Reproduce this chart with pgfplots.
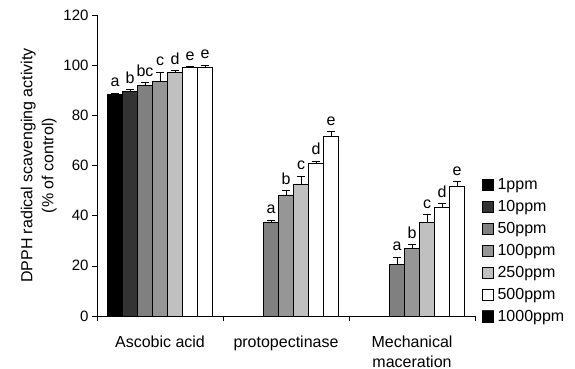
\documentclass[border=0pt]{standalone}
\usepackage{fontspec}
\setmainfont{Liberation Sans}
\usepackage{pgfplots}
\pgfplotsset{compat=1.18}

\definecolor{c1}{HTML}{000000}
\definecolor{c10}{HTML}{333333}
\definecolor{c50}{HTML}{808080}
\definecolor{c100}{HTML}{969696}
\definecolor{c250}{HTML}{C0C0C0}
\definecolor{c500}{HTML}{FFFFFF}

\pgfplotsset{
  swatch/.style={legend image code/.code={
      \draw[##1, draw=black, line width=0.5bp] (0bp,-5.5bp) rectangle (11bp,5.5bp);}},
}

\begin{document}
\begin{tikzpicture}
\begin{axis}[
  name=main,
  at={(0,0)}, anchor=south west,
  scale only axis,
  width=378bp, height=301bp,
  font=\fontsize{16bp}{21bp}\selectfont,
  tick label style={font=\fontsize{15bp}{18bp}\selectfont},
  /pgf/number format/assume math mode=true,
  ybar=0pt, bar width=15bp,
  xmin=-0.5, xmax=2.5,
  ymin=0, ymax=120,
  ytick={0,20,...,120},
  xtick={-0.5,0.5,1.5,2.5},
  xticklabels={},
  extra x ticks={0,1,2},
  extra x tick labels={Ascobic acid,protopectinase,{Mechanical\\maceration}},
  extra x tick style={major tick length=0pt,
    tick label style={align=center, yshift=-16bp,
      font=\fontsize{16bp}{20bp}\selectfont}},
  axis x line*=bottom, axis y line*=left,
  tick align=outside,
  major tick length=5bp,
  every tick/.style={black, line width=0.6bp},
  axis line style={line width=0.6bp},
  ylabel={DPPH radical scavenging activity\\(\% of control)},
  ylabel style={align=center, font=\fontsize{16bp}{21bp}\selectfont},
  error bars/y dir=plus, error bars/y explicit,
  error bars/error mark options={rotate=90, mark size=4bp, line width=0.8bp},
  error bars/error bar style={line width=0.8bp},
  every axis plot/.append style={draw=black, line width=0.6bp},
  point meta=explicit symbolic,
  nodes near coords,
  visualization depends on={\thisrow{err}\as\errv},
  every node near coord/.append style={anchor=south, inner sep=0pt,
    shift={(axis direction cs:0,\errv)}, yshift=6bp,
    font=\fontsize{16bp}{18bp}\selectfont, black},
  legend cell align=left,
  legend style={at={(1.01,0.468)}, anchor=north west, draw=none, fill=none,
    row sep=7.3bp, font=\fontsize{16bp}{18bp}\selectfont,
    nodes={inner sep=1bp},
    /tikz/every odd column/.append style={column sep=3bp}},
]
% 1 ppm
\addplot[fill=c1, swatch] table[x=x, y=y, y error=err, meta=lab] {
x y err lab
0 88.2 0.6 a
};
% 10 ppm
\addplot[fill=c10, swatch] table[x=x, y=y, y error=err, meta=lab] {
x y err lab
0 89.5 0.7 b
};
% 50 ppm
\addplot[fill=c50, swatch] table[x=x, y=y, y error=err, meta=lab] {
x y err lab
0 91.9 1.2 bc
1 37.5 0.8 a
2 20.5 3.0 a
};
% 100 ppm
\addplot[fill=c100, swatch] table[x=x, y=y, y error=err, meta=lab] {
x y err lab
0 93.6 3.6 c
1 48.3 1.6 b
2 26.8 1.7 b
};
% 250 ppm
\addplot[fill=c250, swatch] table[x=x, y=y, y error=err, meta=lab] {
x y err lab
0 97.1 0.7 d
1 52.7 3.0 c
2 37.2 3.2 c
};
% 500 ppm
\addplot[fill=c500, swatch] table[x=x, y=y, y error=err, meta=lab] {
x y err lab
0 99.2 0.2 e
1 61.0 0.7 d
2 43.5 1.2 d
};
% 1000 ppm: white bars, dotted swatch in the key
\addplot[fill=white, legend image code/.code={
    \fill[black!85] (0bp,-5.5bp) rectangle (11bp,5.5bp);
    \foreach \dx/\dy in {3/3,8/3,5.5/0,3/-3,8/-3}
      {\fill[white] (\dx bp,\dy bp) circle (0.9bp);}
    \draw[black, line width=0.5bp] (0bp,-5.5bp) rectangle (11bp,5.5bp);}]
  table[x=x, y=y, y error=err, meta=lab] {
x y err lab
0 99.2 0.7 e
1 71.8 1.6 e
2 51.8 1.8 e
};
\legend{1ppm,10ppm,50ppm,100ppm,250ppm,500ppm,1000ppm}
\end{axis}
\pgfresetboundingbox
\path (-97bp,-53bp) rectangle (478bp,316bp);
\end{tikzpicture}
\end{document}
